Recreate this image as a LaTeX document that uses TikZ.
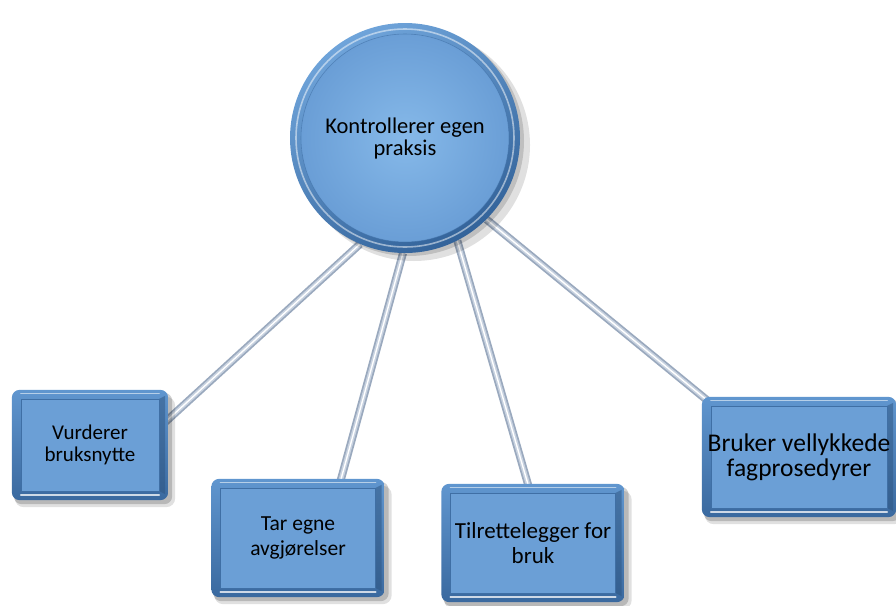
\documentclass[tikz,border=0pt]{standalone}
\usepackage{fontspec}
\setmainfont{Carlito}
\pgfdeclarelayer{conn}
\pgfdeclarelayer{shape}
\pgfsetlayers{conn,shape,main}
\definecolor{wireedge}{HTML}{9AA9BE}
\definecolor{wiremid}{HTML}{C8D2E0}
\definecolor{boxtop}{HTML}{6096CF}
\definecolor{boxbot}{HTML}{3A699F}
\definecolor{boxin}{HTML}{6B9FD6}
\definecolor{boxline}{HTML}{3F6FA5}
\definecolor{rimtop}{HTML}{6FA4DA}
\definecolor{rimbot}{HTML}{33639A}
\definecolor{diskin}{HTML}{86B9E9}
\definecolor{diskout}{HTML}{6A9ED6}
\newcommand\bevelbox[1]{%
  \fill[black,opacity=.12,rounded corners=9pt] ([shift={(3pt,-7pt)}]#1.north west) rectangle ([shift={(7pt,-7pt)}]#1.south east);
  \fill[black,opacity=.18,rounded corners=8pt] ([shift={(2pt,-3pt)}]#1.north west) rectangle ([shift={(4pt,-4pt)}]#1.south east);
  \shade[rounded corners=8pt, top color=boxtop, bottom color=boxbot] (#1.north west) rectangle (#1.south east);
  \fill[boxbot!80!black,opacity=.5] ([shift={(-9pt,-9pt)}]#1.north east) -- ([shift={(-3pt,-6pt)}]#1.north east) -- ([shift={(-3pt,6pt)}]#1.south east) -- ([shift={(-9pt,9pt)}]#1.south east) -- cycle;
  \fill[boxin, draw=boxline, line width=.6pt] ([shift={(9pt,-9pt)}]#1.north west) rectangle ([shift={(-9pt,9pt)}]#1.south east);
  \draw[white,opacity=.55,line width=1.2pt,line cap=round] ([shift={(9pt,-4pt)}]#1.north west) -- ([shift={(-9pt,-4pt)}]#1.north east);
  \draw[white,opacity=.75,line width=1.6pt,line cap=round] ([shift={(9pt,5pt)}]#1.south west) -- ([shift={(-9pt,5pt)}]#1.south east);
}
\newcommand\wire[2]{%
  \draw[line width=8pt, draw=wireedge] #1 -- #2;
  \draw[line width=4.5pt, draw=wiremid] #1 -- #2;
  \draw[line width=1.4pt, draw=white] #1 -- #2;
}
\begin{document}
\begin{tikzpicture}[x=1pt,y=-1pt,
  lbl/.style={align=center, text=black},
  boxnode/.style={rectangle, inner sep=0pt, lbl}]
\useasboundingbox (0,0) rectangle (896,605);
% nodes
\node[circle, minimum size=230pt, inner sep=0pt, lbl, font=\fontsize{22.5}{22}\selectfont] (c) at (405,138) {Kontrollerer egen\\praksis};
\node[boxnode, minimum width=156pt, minimum height=110pt, font=\fontsize{21}{22}\selectfont] (b1) at (90,445) {Vurderer\\bruksnytte};
\node[boxnode, minimum width=173pt, minimum height=118pt, font=\fontsize{21.5}{25}\selectfont] (b2) at (298,538) {Tar egne\\avgjørelser};
\node[boxnode, minimum width=183pt, minimum height=118pt, font=\fontsize{23}{25}\selectfont] (b3) at (533,543) {Tilrettelegger for\\bruk};
\node[boxnode, minimum width=194pt, minimum height=120pt, font=\fontsize{25.5}{25}\selectfont] (b4) at (799,457) {Bruker vellykkede\\fagprosedyrer};
% connectors
\begin{pgfonlayer}{conn}
  \wire{(c.247)}{([yshift=22pt,xshift=-4pt]b1.east)}
  \wire{(c.269)}{([xshift=42pt,yshift=-4pt]b2.north)}
  \wire{(c.297)}{([xshift=-4pt,yshift=-4pt]b3.north)}
  \wire{(c.315)}{([xshift=6pt,yshift=-4pt]b4.north west)}
\end{pgfonlayer}
% shapes
\begin{pgfonlayer}{shape}
  \fill[black,opacity=.12] ([shift={(9pt,-7pt)}]c.center) circle (116pt);
  \fill[black,opacity=.15] ([shift={(4pt,-3pt)}]c.center) circle (115pt);
  \shade[top color=rimtop, bottom color=rimbot, shading angle=30] (c.center) circle (115pt);
  \draw[white,opacity=.5,line width=1.6pt] (c.center) circle (109pt);
  \shade[inner color=diskin, outer color=diskout] (c.center) circle (104pt);
  \draw[boxline,opacity=.6,line width=.6pt] (c.center) circle (104pt);
  \bevelbox{b1}
  \bevelbox{b2}
  \bevelbox{b3}
  \bevelbox{b4}
\end{pgfonlayer}
\end{tikzpicture}
\end{document}
